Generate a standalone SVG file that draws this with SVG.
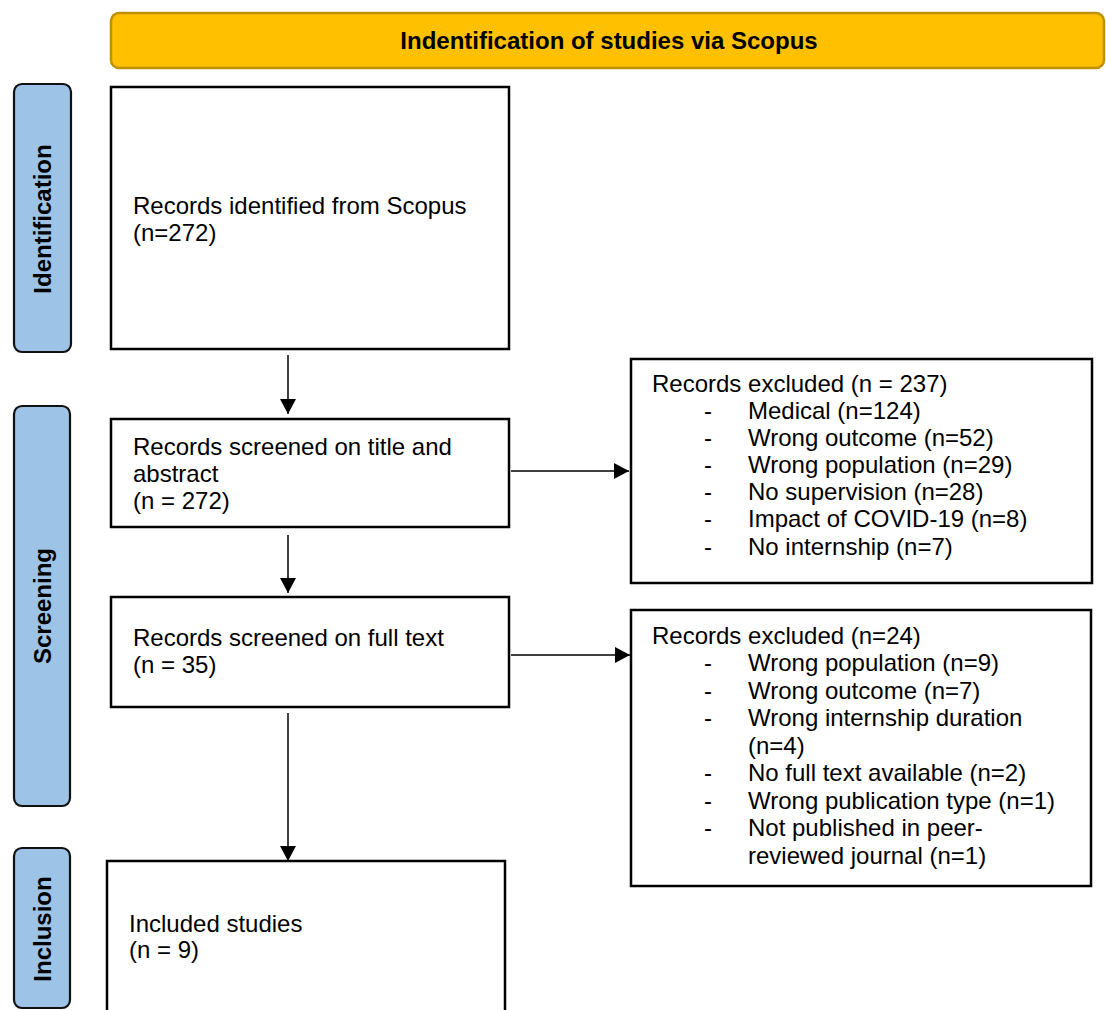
<svg xmlns="http://www.w3.org/2000/svg" width="1106" height="1010" viewBox="0 0 1106 1010">
<style>
text{font-family:"Liberation Sans",Arial,sans-serif;fill:#000}
.t{font-size:24px}
.lb{font-size:24px;font-weight:bold}
.box{fill:#fff;stroke:#000;stroke-width:2.5}
.side{fill:#9DC3E6;stroke:#111;stroke-width:2.2}
.ln{stroke:#000;stroke-width:1.5;fill:none}
</style>
<defs>
<marker id="ah" markerUnits="userSpaceOnUse" markerWidth="16" markerHeight="16" refX="15" refY="8" orient="auto">
<path d="M0,0 L15,8 L0,16 Z" fill="#000"/>
</marker>
</defs>
<rect width="1106" height="1010" fill="#fff"/>
<g id="banner">
<rect x="111" y="13" width="993" height="55" rx="8" fill="#FFC000" stroke="#BF9000" stroke-width="2.5"/>
<text x="609" y="49" text-anchor="middle" style="font-size:24px;font-weight:bold">Indentification of studies via Scopus</text>
</g>
<g id="phase-identification">
<rect class="side" x="14" y="84" width="57" height="268" rx="8"/>
<text class="lb" transform="translate(51,219) rotate(-90)" text-anchor="middle">Identification</text>
</g>
<g id="phase-screening">
<rect class="side" x="14" y="406" width="56" height="400" rx="8"/>
<text class="lb" transform="translate(51,606) rotate(-90)" text-anchor="middle">Screening</text>
</g>
<g id="phase-inclusion">
<rect class="side" x="14" y="848" width="56" height="160" rx="8"/>
<text class="lb" transform="translate(51,929) rotate(-90)" text-anchor="middle">Inclusion</text>
</g>
<g id="identified">
<rect class="box" x="111" y="87" width="398" height="262"/>
<text class="t" x="133" y="214">Records identified from Scopus</text>
<text class="t" x="133" y="241">(n=272)</text>
</g>
<g id="screened-title">
<rect class="box" x="111" y="419" width="398" height="108"/>
<text class="t" x="133" y="455">Records screened on title and</text>
<text class="t" x="133" y="482">abstract</text>
<text class="t" x="133" y="509">(n = 272)</text>
</g>
<g id="screened-full">
<rect class="box" x="111" y="597" width="398" height="110"/>
<text class="t" x="133" y="646">Records screened on full text</text>
<text class="t" x="133" y="673">(n = 35)</text>
</g>
<g id="included">
<rect class="box" x="107" y="861" width="398" height="160"/>
<text class="t" x="129" y="932">Included studies</text>
<text class="t" x="129" y="958">(n = 9)</text>
</g>
<g id="excluded-1">
<rect class="box" x="631" y="359" width="461" height="224"/>
<text class="t" x="652" y="392">Records excluded (n = 237)</text>
<text class="t" x="704" y="419">-</text><text class="t" x="748" y="419">Medical (n=124)</text>
<text class="t" x="704" y="446">-</text><text class="t" x="748" y="446">Wrong outcome (n=52)</text>
<text class="t" x="704" y="473">-</text><text class="t" x="748" y="473">Wrong population (n=29)</text>
<text class="t" x="704" y="500">-</text><text class="t" x="748" y="500">No supervision (n=28)</text>
<text class="t" x="704" y="527">-</text><text class="t" x="748" y="527">Impact of COVID-19 (n=8)</text>
<text class="t" x="704" y="555">-</text><text class="t" x="748" y="555">No internship (n=7)</text>
</g>
<g id="excluded-2">
<rect class="box" x="631" y="610" width="460" height="276"/>
<text class="t" x="652" y="644">Records excluded (n=24)</text>
<text class="t" x="704" y="671">-</text><text class="t" x="748" y="671">Wrong population (n=9)</text>
<text class="t" x="704" y="699">-</text><text class="t" x="748" y="699">Wrong outcome (n=7)</text>
<text class="t" x="704" y="726">-</text><text class="t" x="748" y="726">Wrong internship duration</text>
<text class="t" x="748" y="754">(n=4)</text>
<text class="t" x="704" y="781">-</text><text class="t" x="748" y="781">No full text available (n=2)</text>
<text class="t" x="704" y="809">-</text><text class="t" x="748" y="809">Wrong publication type (n=1)</text>
<text class="t" x="704" y="836">-</text><text class="t" x="748" y="836">Not published in peer-</text>
<text class="t" x="748" y="864">reviewed journal (n=1)</text>
</g>
<g id="connectors">
<line class="ln" x1="288" y1="355" x2="288" y2="414" marker-end="url(#ah)"/>
<line class="ln" x1="288" y1="535" x2="288" y2="593" marker-end="url(#ah)"/>
<line class="ln" x1="288" y1="713" x2="288" y2="861" marker-end="url(#ah)"/>
<line class="ln" x1="511" y1="471" x2="629" y2="471" marker-end="url(#ah)"/>
<line class="ln" x1="511" y1="655" x2="630" y2="655" marker-end="url(#ah)"/>
</g>
</svg>
